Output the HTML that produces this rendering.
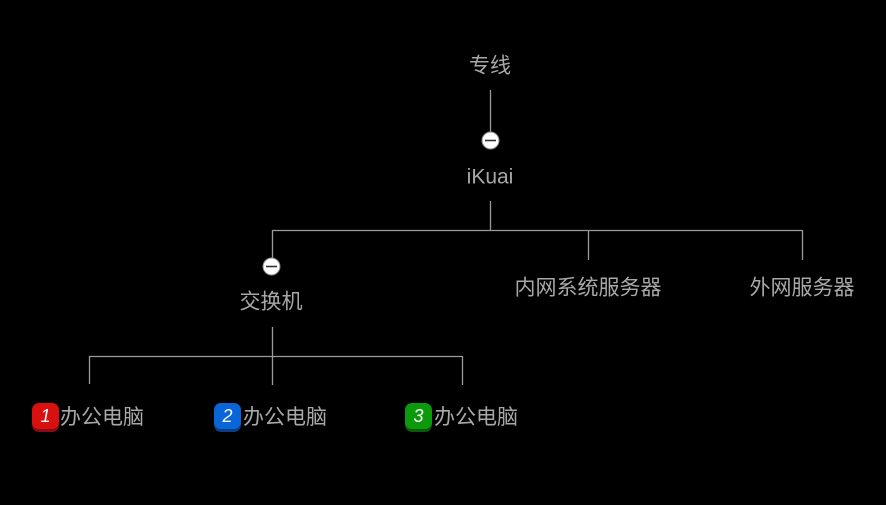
<!DOCTYPE html>
<html><head><meta charset="utf-8"><style>
body{margin:0;background:#000;width:886px;height:505px;overflow:hidden;position:relative;font-family:"Liberation Sans","Microsoft YaHei","Noto Sans CJK SC",sans-serif;}
.t{position:absolute;color:#a8a8a8;font-size:21px;white-space:nowrap;transform:translate(-50%,-50%);line-height:1;}
.b{position:absolute;width:27px;height:26px;border-radius:7px;color:#fff;font-style:italic;font-size:18px;text-align:center;line-height:27px;}
.l{position:absolute;color:#a8a8a8;font-size:21px;line-height:1;white-space:nowrap;}
</style></head><body>
<svg width="886" height="505" style="position:absolute;left:0;top:0">
<g stroke="#9a9a9a" stroke-width="1.3" fill="none">
<line x1="490.5" y1="90" x2="490.5" y2="132"/>
<line x1="490.5" y1="201" x2="490.5" y2="230"/>
<line x1="272" y1="230.5" x2="802" y2="230.5"/>
<line x1="272.5" y1="230" x2="272.5" y2="258"/>
<line x1="588.5" y1="230" x2="588.5" y2="260"/>
<line x1="802.5" y1="230" x2="802.5" y2="260"/>
<line x1="272.5" y1="327" x2="272.5" y2="385"/>
<line x1="89" y1="356.5" x2="462" y2="356.5"/>
<line x1="89.5" y1="356" x2="89.5" y2="384"/>
<line x1="462.5" y1="356" x2="462.5" y2="385"/>
</g>
<g>
<circle cx="490.5" cy="140.5" r="8.5" fill="#fff" stroke="#888" stroke-width="1"/>
<line x1="485" y1="140.5" x2="496" y2="140.5" stroke="#333" stroke-width="1.6"/>
<circle cx="271.5" cy="266.5" r="8.5" fill="#fff" stroke="#888" stroke-width="1"/>
<line x1="266" y1="266.5" x2="277" y2="266.5" stroke="#333" stroke-width="1.6"/>
</g>
</svg>
<div class="t" style="left:490px;top:66px">专线</div>
<div class="t" style="left:490px;top:177px">iKuai</div>
<div class="t" style="left:271px;top:302px">交换机</div>
<div class="t" style="left:588px;top:288px">内网系统服务器</div>
<div class="t" style="left:802px;top:288px">外网服务器</div>
<div class="b" style="left:32px;top:403px;background:#d81010;box-shadow:0 3px 0 #8a0c18">1</div>
<div class="l" style="left:60px;top:407px">办公电脑</div>
<div class="b" style="left:214px;top:403px;background:#0a66d8;box-shadow:0 3px 0 #0b3f80">2</div>
<div class="l" style="left:243px;top:407px">办公电脑</div>
<div class="b" style="left:405px;top:403px;background:#0c9a0c;box-shadow:0 3px 0 #0a5a0a">3</div>
<div class="l" style="left:434px;top:407px">办公电脑</div>
</body></html>
